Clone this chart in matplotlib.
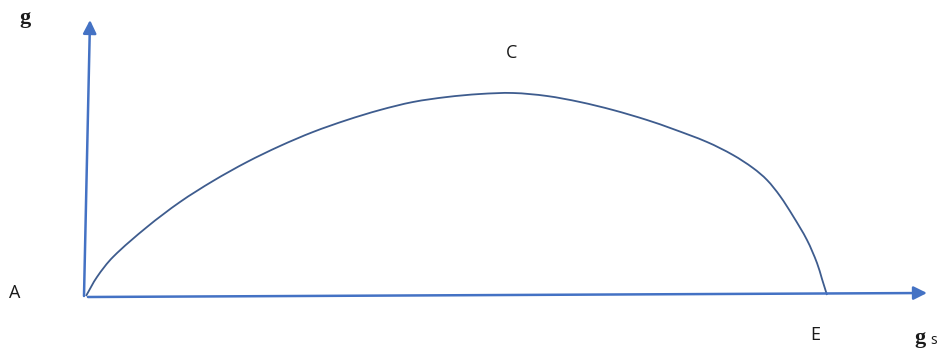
import numpy as np
import matplotlib.pyplot as plt
from matplotlib.path import Path
from matplotlib.patches import PathPatch

# curve g vs g_s (units: pixels from origin A)
gs_vals = [0, 11, 27, 61, 94, 127, 161, 194, 227, 261, 294, 327, 361, 394,
           427, 461, 494, 527, 561, 587, 621, 647, 667, 681, 694, 707, 721,
           731, 736, 741]
g_vals = [0, 19, 39, 69, 94, 115, 134, 150, 164, 176, 186, 194, 199, 202,
          203, 200, 194, 186, 176, 167, 154, 141, 128, 116, 100, 80, 56,
          33, 17, 1]

# axis arrows (start, end)
y_axis = [(-2, 0), (4, 276)]
x_axis = [(2, -1), (841, 3)]

# point labels
labels = ["A", "C", "E"]
label_x = [-71, 426, 729]
label_y = [3, 243, -39]

AXIS_COLOR = "#4472C4"
CURVE_COLOR = "#3E5C8E"
TEXT_COLOR = "#1a1a1a"


def smooth_path(xs, ys):
    """Chord-length Catmull-Rom through the points, as cubic Bezier segments."""
    p = np.column_stack([xs, ys]).astype(float)
    d = np.r_[0, np.cumsum(np.hypot(*np.diff(p, axis=0).T))]
    n = len(p)
    tang = np.zeros_like(p)
    tang[0] = (p[1] - p[0]) / (d[1] - d[0])
    tang[-1] = (p[-1] - p[-2]) / (d[-1] - d[-2])
    for i in range(1, n - 1):
        tang[i] = (p[i + 1] - p[i - 1]) / (d[i + 1] - d[i - 1])
    verts = [p[0]]
    codes = [Path.MOVETO]
    for i in range(n - 1):
        h = d[i + 1] - d[i]
        verts += [p[i] + tang[i] * h / 3, p[i + 1] - tang[i + 1] * h / 3, p[i + 1]]
        codes += [Path.CURVE4] * 3
    return Path(verts, codes)


fig = plt.figure(figsize=(9.42, 3.51), dpi=100)
ax = fig.add_axes([0, 0, 1, 1])
ax.set_xlim(-86, 856)
ax.set_ylim(-55, 296)
ax.axis("off")

for (x0, y0), (x1, y1) in [y_axis, x_axis]:
    ax.annotate("", xy=(x1, y1), xytext=(x0, y0),
                arrowprops=dict(arrowstyle="-|>", color=AXIS_COLOR, lw=1.8,
                                mutation_scale=20, shrinkA=0, shrinkB=0))

ax.add_patch(PathPatch(smooth_path(gs_vals, g_vals), fill=False,
                       edgecolor=CURVE_COLOR, lw=1.3))

for lab, lx, ly in zip(labels, label_x, label_y):
    ax.text(lx, ly, lab, fontsize=13, family="Open Sans", color=TEXT_COLOR,
            ha="center", va="center")

ax.text(-61, 278, "g", fontsize=16, family="Liberation Serif", weight="bold",
        color=TEXT_COLOR, ha="center", va="center")
ax.text(834, -42, "g", fontsize=16, family="Liberation Serif", weight="bold",
        color=TEXT_COLOR, ha="center", va="center")
ax.text(848, -44, "s", fontsize=10, family="Open Sans",
        color=TEXT_COLOR, ha="center", va="center")

fig.savefig("out.png", dpi=100)
